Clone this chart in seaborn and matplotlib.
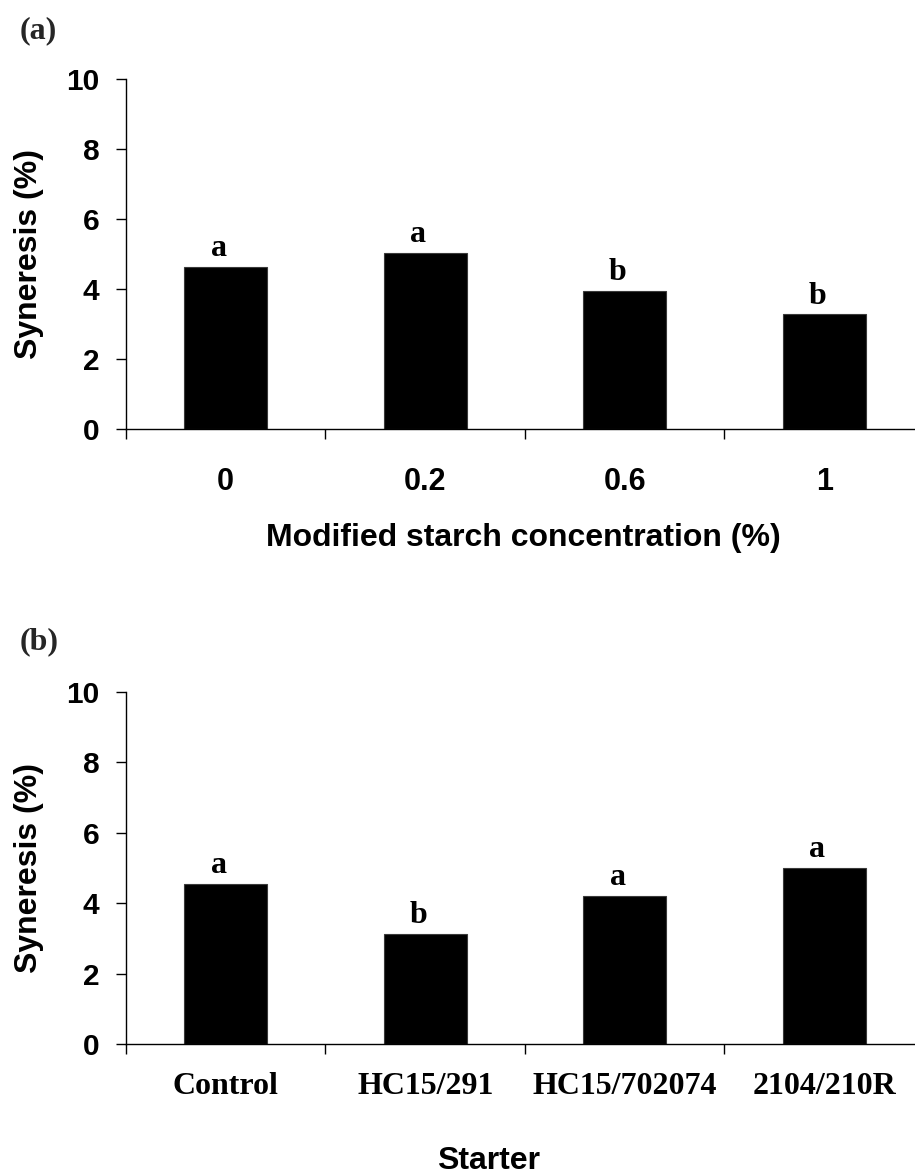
import matplotlib
matplotlib.use("Agg")
import matplotlib.pyplot as plt
import seaborn as sns
import pandas as pd

# Panel (a): syneresis vs. modified starch concentration
concentrations = ["0", "0.2", "0.6", "1"]
syneresis_starch = [4.65, 5.05, 3.96, 3.29]
letters_starch = ["a", "a", "b", "b"]

# Panel (b): syneresis vs. starter culture
starters = ["Control", "HC15/291", "HC15/702074", "2104/210R"]
syneresis_starter = [4.55, 3.14, 4.21, 5.01]
letters_starter = ["a", "b", "a", "a"]

y_ticks = [0, 2, 4, 6, 8, 10]

sns.set_theme(style="white")
plt.rcParams["font.family"] = ["Liberation Sans", "DejaVu Sans"]

W, H = 915, 1176
fig = plt.figure(figsize=(W / 100, H / 100), dpi=100)
fig.patch.set_facecolor("white")

SANS = "Liberation Sans"
SERIF = "Liberation Serif"


def px_axes(left, top, bottom):
    return [left / W, 1 - bottom / H, 1 - left / W, (bottom - top) / H]


def draw_panel(ax, cats, vals, letters, xlabel, tick_family, tick_size,
               tick_pad, xlabel_xy):
    df = pd.DataFrame({"cat": cats, "val": vals})
    sns.barplot(data=df, x="cat", y="val", order=cats, color="black",
                saturation=1, width=0.415, errorbar=None, ax=ax,
                edgecolor="#3a3a3a", linewidth=0.8)

    ax.set_facecolor("white")
    ax.set_ylim(0, 10)
    ax.set_xlim(-0.5, 3.455)
    ax.set_yticks(y_ticks)
    ax.set_yticklabels([str(t) for t in y_ticks], fontfamily=SANS,
                       fontweight="bold", fontsize=21.5)

    # category separators as major ticks, names as minor tick labels
    ax.set_xticks([-0.5, 0.5, 1.5, 2.5])
    ax.set_xticklabels([])
    ax.set_xticks(range(len(cats)), labels=cats, minor=True)
    for lbl in ax.get_xticklabels(minor=True):
        lbl.set_fontfamily(tick_family)
        lbl.set_fontweight("bold")
        lbl.set_fontsize(tick_size)

    ax.tick_params(axis="x", which="major", bottom=True, direction="out",
                   length=7.5, width=1.0, color="black")
    ax.tick_params(axis="x", which="minor", bottom=True, length=0,
                   pad=tick_pad, labelcolor="black")
    ax.tick_params(axis="y", left=True, direction="out", length=7,
                   width=1.0, color="black", pad=12, labelcolor="black")

    for side in ("top", "right"):
        ax.spines[side].set_visible(False)
    for side in ("left", "bottom"):
        ax.spines[side].set_color("black")
        ax.spines[side].set_linewidth(1.0)

    ax.set_ylabel("Syneresis (%)", fontfamily=SANS, fontweight="bold",
                  fontsize=23, color="black")
    ax.yaxis.set_label_coords(-0.1037, 0.5)
    ax.set_xlabel(xlabel, fontfamily=SANS, fontweight="bold", fontsize=23,
                  color="black")
    ax.xaxis.set_label_coords(*xlabel_xy)

    # significance letters above each bar
    for i, (v, letter) in enumerate(zip(vals, letters)):
        ax.annotate(letter, xy=(i, v), xytext=(-5, 7.5),
                    textcoords="offset points", ha="center", va="baseline",
                    fontfamily=SERIF, fontweight="bold", fontsize=23,
                    color="black")


ax_a = fig.add_axes(px_axes(126, 79.3, 429.3))
draw_panel(ax_a, concentrations, syneresis_starch, letters_starch,
           "Modified starch concentration (%)", SANS, 22, 27,
           (0.504, -0.268))

ax_b = fig.add_axes(px_axes(126, 691.7, 1044.3))
draw_panel(ax_b, starters, syneresis_starter, letters_starter,
           "Starter", SERIF, 23, 20, (0.46, -0.288))

fig.text(20 / W, 1 - 38 / H, "(a)", fontfamily=SERIF, fontweight="bold",
         fontsize=23, ha="left", va="baseline")
fig.text(20 / W, 1 - 649 / H, "(b)", fontfamily=SERIF, fontweight="bold",
         fontsize=23, ha="left", va="baseline")

fig.savefig("out.png", dpi=100, facecolor="white")
